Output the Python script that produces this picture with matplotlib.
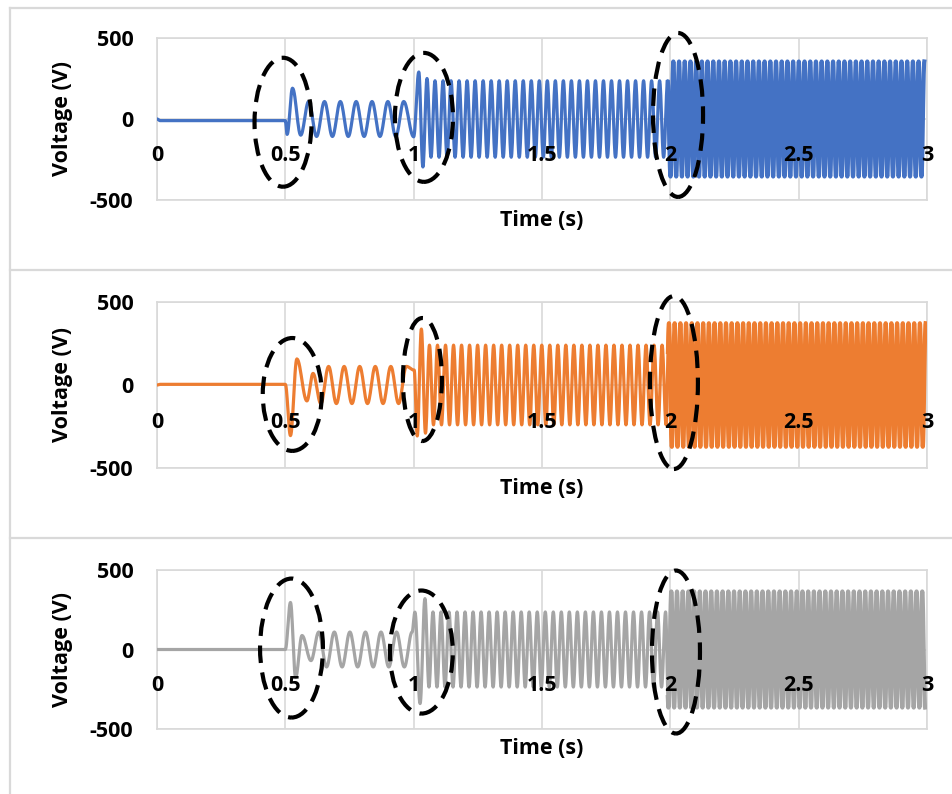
import numpy as np
import matplotlib
matplotlib.use("Agg")
import matplotlib.pyplot as plt
from matplotlib.patches import Ellipse
from matplotlib.lines import Line2D

plt.rcParams['font.family'] = ['Open Sans', 'DejaVu Sans']
plt.rcParams['font.weight'] = 'bold'

# axis ticks
time_ticks = [0, 0.5, 1, 1.5, 2, 2.5, 3]
time_labels = ['0', '0.5', '1', '1.5', '2', '2.5', '3']
volt_ticks = [-500, 0, 500]

# segment boundaries (s): fault at 0.5, 1.0, 2.0
seg_start = [0.5, 1.0, 2.0]

# --- blue trace (top) ---
blue_flat = -10
blue_t1 = [0.500, 0.507, 0.528, 0.560]
blue_v1 = [-10, -95, 190, -100]
blue_t2 = [1.000, 1.020, 1.036, 1.052]
blue_v2 = [-110, 290, -296, 250]
blue_amp = [108, 236, 355]
blue_freq = [16.2, 32, 45]

# --- orange trace (middle) ---
orange_flat = 4
orange_t1 = [0.500, 0.520, 0.545, 0.584, 0.608]
orange_v1 = [4, -305, 157, -96, 70]
orange_t2 = [1.002, 1.014, 1.030, 1.046]
orange_v2 = [90, -307, 337, -290]
orange_amp = [112, 240, 372]
orange_freq = [16.5, 32, 45]

# --- gray trace (bottom) ---
gray_flat = 0
gray_t1 = [0.500, 0.520, 0.540, 0.565, 0.600]
gray_v1 = [0, 296, -176, 88, -70]
gray_t2 = [1.005, 1.025, 1.044]
gray_v2 = [235, -340, 320]
gray_amp = [110, 236, 365]
gray_freq = [16.5, 32, 45]

# dashed ellipses: (centre t, centre V, width s, height V)
blue_ell = [(0.491, -20, 0.222, 796), (1.04, 10, 0.226, 796), (2.03, 25, 0.195, 1012)]
orange_ell = [(0.527, -57, 0.23, 680), (1.034, 33, 0.152, 741), (2.014, 15, 0.187, 1042)]
gray_ell = [(0.524, 9, 0.245, 874), (1.03, -16, 0.245, 774), (2.022, -16, 0.187, 1025)]


def regular(ts, vs, t_end, amp, freq):
    half = 0.5 / freq
    t = ts[-1] + half
    sign = -np.sign(vs[-1]) if vs[-1] != 0 else 1
    while t < t_end - 0.3 * half:
        ts.append(t)
        vs.append(sign * amp)
        sign = -sign
        t += half


def build_trace(flat, t1, v1, t2, v2, amps, freqs):
    # extrema of the waveform, then joined by half-cosine strokes
    ts = [0.0, 0.012] + list(t1)
    vs = [0.0, flat] + list(v1)
    regular(ts, vs, t2[0], amps[0], freqs[0])
    ts += list(t2)
    vs += list(v2)
    regular(ts, vs, seg_start[2], amps[1], freqs[1])
    regular(ts, vs, 3.0, amps[2], freqs[2])
    tt, vv = [], []
    s = np.linspace(0, 1, 14, endpoint=False)
    for i in range(len(ts) - 1):
        w = (1 - np.cos(np.pi * s)) / 2
        tt.append(ts[i] + (ts[i + 1] - ts[i]) * s)
        vv.append(vs[i] + (vs[i + 1] - vs[i]) * w)
    tt.append([ts[-1]])
    vv.append([vs[-1]])
    return np.concatenate(tt), np.concatenate(vv)


W, H = 952, 794
fig = plt.figure(figsize=(W / 100, H / 100), dpi=100)

# outer panel frames
grey = '#d9d9d9'
for y in [8, 270, 538]:
    fig.add_artist(Line2D([10 / W, 1], [1 - y / H, 1 - y / H], color=grey, lw=1.6))
fig.add_artist(Line2D([10 / W, 10 / W], [0, 1 - 8 / H], color=grey, lw=1.6))

panels = [
    (38, 200, '#4472C4', build_trace(blue_flat, blue_t1, blue_v1, blue_t2, blue_v2, blue_amp, blue_freq), blue_ell),
    (302, 468, '#ED7D31', build_trace(orange_flat, orange_t1, orange_v1, orange_t2, orange_v2, orange_amp, orange_freq), orange_ell),
    (570, 729, '#A5A5A5', build_trace(gray_flat, gray_t1, gray_v1, gray_t2, gray_v2, gray_amp, gray_freq), gray_ell),
]

fs = 15.5
for top, bot, col, (t, v), ells in panels:
    ax = fig.add_axes([157 / W, 1 - bot / H, 770 / W, (bot - top) / H])
    ax.set_xlim(0, 3)
    ax.set_ylim(-500, 500)
    for sp in ax.spines.values():
        sp.set_color(grey)
        sp.set_linewidth(1.2)
    ax.set_xticks(time_ticks)
    ax.set_xticklabels([])
    ax.set_yticks(volt_ticks)
    ax.set_yticklabels([str(x) for x in volt_ticks], fontsize=fs, fontweight='bold')
    ax.tick_params(length=0)
    ax.tick_params(axis='y', pad=17)
    ax.grid(True, color=grey, lw=1.2)
    ax.set_axisbelow(True)

    # dense part after 2 s drawn a bit heavier so it fills in like the original
    early = t <= seg_start[2] + 0.01
    late = t >= seg_start[2] - 0.01
    ax.plot(t[early], v[early], color=col, lw=2.3, solid_joinstyle='round', zorder=3)
    ax.plot(t[late], v[late], color=col, lw=3.0, solid_joinstyle='round', zorder=3)

    for x, lab in zip(time_ticks, time_labels):
        ax.text(x, -228, lab, ha='center', va='center', fontsize=fs,
                fontweight='bold', zorder=6, clip_on=False)

    for cx, cy, ew, eh in ells:
        ax.add_patch(Ellipse((cx, cy), ew, eh, fill=False, ec='black', lw=3.0,
                             ls=(0, (4.2, 2.3)), zorder=5, clip_on=False))

    ax.text(0.5, -0.125, 'Time (s)', transform=ax.transAxes, ha='center',
            va='center', fontsize=fs, fontweight='bold')
    ax.text(-0.123, 0.5, 'Voltage (V)', transform=ax.transAxes, ha='center',
            va='center', rotation=90, fontsize=fs, fontweight='bold')

fig.savefig('out.png', dpi=100)
